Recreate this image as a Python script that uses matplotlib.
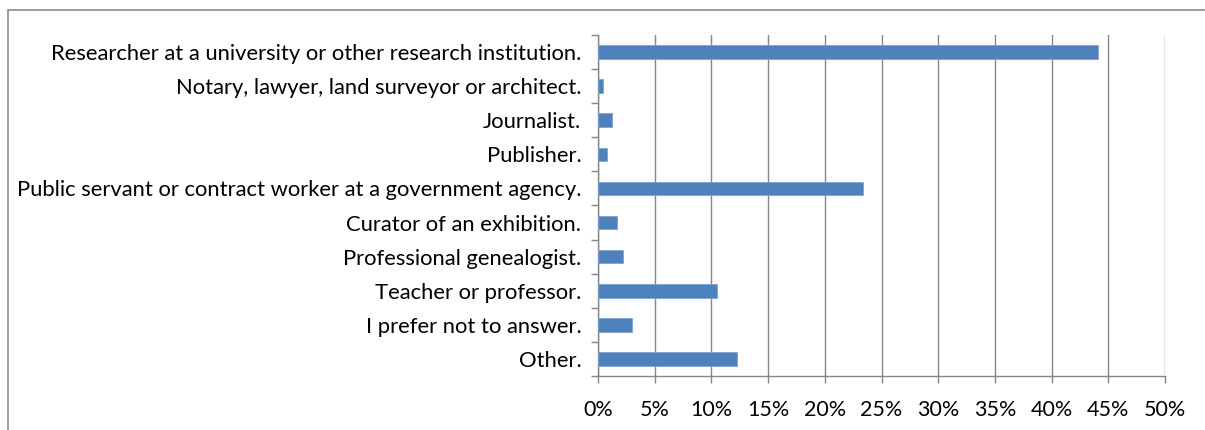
import matplotlib.pyplot as plt
from matplotlib.patches import Rectangle
from matplotlib.ticker import FuncFormatter, FixedLocator
import numpy as np

categories = [
    "Researcher at a university or other research institution.",
    "Notary, lawyer, land surveyor or architect.",
    "Journalist.",
    "Publisher.",
    "Public servant or contract worker at a government agency.",
    "Curator of an exhibition.",
    "Professional genealogist.",
    "Teacher or professor.",
    "I prefer not to answer.",
    "Other.",
]
shares = [44.1, 0.4, 1.2, 0.8, 23.4, 1.7, 2.2, 10.5, 3.0, 12.3]

W, H = 1205, 430
plt.rcParams['font.family'] = ['Lato', 'DejaVu Sans']
fig = plt.figure(figsize=(W / 100, H / 100), dpi=100)

# outer chart frame (cut off at right and bottom)
fig.patches.append(Rectangle((8 / W, -0.1), 1.2, 1 - 9.5 / H + 0.1, transform=fig.transFigure,
                             fill=False, edgecolor='#8c8c8c', linewidth=1.2))

left, right, top, bottom = 598, 1165, 35, 376
ax = fig.add_axes([left / W, 1 - bottom / H, (right - left) / W, (bottom - top) / H])

n = len(categories)
y = np.arange(n)
ax.barh(y, shares, height=0.4, color='#4F81BD', edgecolor='#7FA3D0', linewidth=0.6, zorder=3)
ax.set_ylim(n - 0.5, -0.5)
ax.set_xlim(0, 50)

ax.set_yticks(y)
ax.set_yticklabels(categories, fontsize=15.8)
ax.yaxis.set_minor_locator(FixedLocator(np.arange(-0.5, n, 1)))
ax.tick_params(axis='y', which='major', length=0, pad=12)
ax.tick_params(axis='y', which='minor', length=5, width=1, color='#868686')

ax.set_xticks(np.arange(0, 51, 5))
ax.xaxis.set_major_formatter(FuncFormatter(lambda v, p: f"{v:.0f}%"))
ax.tick_params(axis='x', length=5, width=1, color='#868686', labelsize=15.5, pad=12)

ax.grid(axis='x', color='#868686', linewidth=1, zorder=0)
for s in ['top', 'right']:
    ax.spines[s].set_visible(False)
for s in ['left', 'bottom']:
    ax.spines[s].set_color('#868686')
    ax.spines[s].set_linewidth(1)

fig.savefig('out.png', dpi=100)
